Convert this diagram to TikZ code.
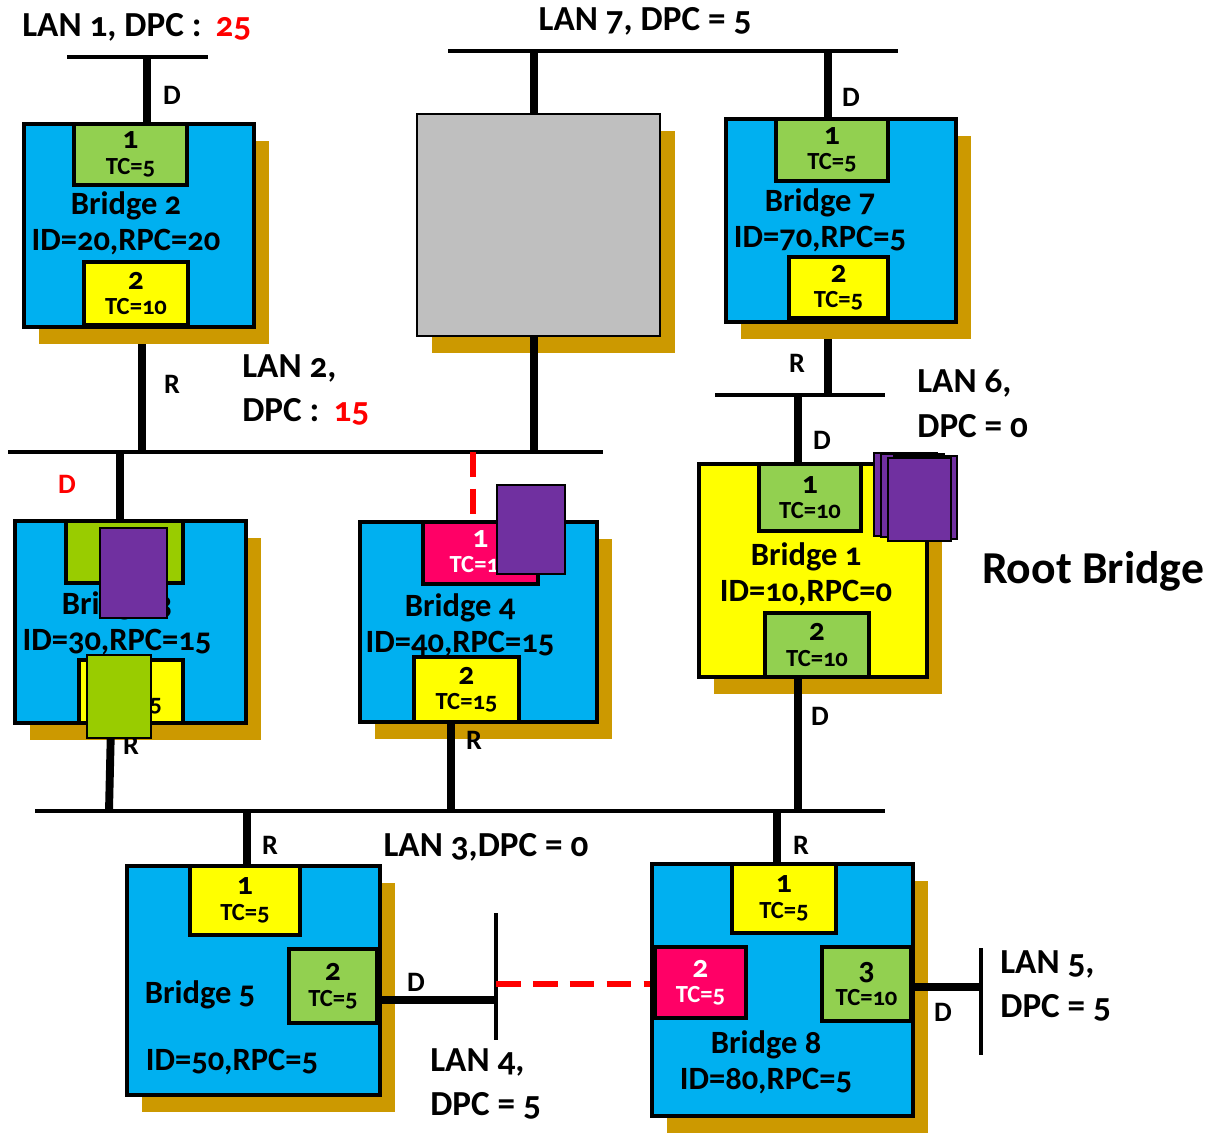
\documentclass[tikz,border=0pt]{standalone}
\usepackage{fontspec}
\setmainfont{Carlito}[Numbers=OldStyle]
\usetikzlibrary{shadows,backgrounds}
\definecolor{bridgeblue}{HTML}{00B0F0}
\definecolor{portgreen}{HTML}{92D050}
\definecolor{oldgreen}{HTML}{99CC00}
\definecolor{portyellow}{HTML}{FFFF00}
\definecolor{portpink}{HTML}{FF0066}
\definecolor{shadowgold}{HTML}{CC9900}
\definecolor{hidepurple}{HTML}{7030A0}
\definecolor{grayfill}{HTML}{BFBFBF}
\newcommand{\pnum}[1]{{\fontsize{18}{14.5}\selectfont #1}}

\begin{document}
\begin{tikzpicture}[
    x=0.02cm, y=-0.02cm,
    bus/.style={line width=2.3pt},
    drop/.style={line width=4.5pt},
    blocked/.style={line width=3.5pt, red, dash pattern=on 14pt off 7pt},
    bridge/.style={draw, line width=2.8pt, fill=bridgeblue, inner sep=0pt,
        drop shadow={shadow xshift=0.3cm, shadow yshift=-0.34cm, fill=shadowgold, opacity=1}},
    port/.style={draw, line width=2.8pt, inner sep=0pt, align=center,
        font=\fontsize{14}{14.5}\selectfont\bfseries},
    cover/.style={draw, line width=1.2pt, inner sep=0pt},
    btxt/.style={align=center, inner sep=0pt, font=\fontsize{18.5}{20.5}\selectfont\bfseries},
    lantxt/.style={align=left, inner sep=0pt, font=\fontsize{20}{25.5}\selectfont\bfseries},
    role/.style={inner sep=0pt, font=\fontsize{16}{18}\selectfont\bfseries}
]
\useasboundingbox (0,0) rectangle (1209,1132);

% LAN segments
\coordinate (lan1w) at (67,57);   \coordinate (lan1e) at (208,57);
\coordinate (lan7w) at (448,51);  \coordinate (lan7e) at (898,51);
\coordinate (lan2w) at (8,452);   \coordinate (lan2e) at (603,452);
\coordinate (lan6w) at (715,395); \coordinate (lan6e) at (885,395);
\coordinate (lan3w) at (35,811);  \coordinate (lan3e) at (885,811);
\coordinate (lan4n) at (496,913); \coordinate (lan4s) at (496,1040);
\coordinate (lan5n) at (981,948); \coordinate (lan5s) at (981,1055);
\foreach \a/\b in {lan1w/lan1e, lan7w/lan7e, lan2w/lan2e, lan6w/lan6e, lan3w/lan3e, lan4n/lan4s, lan5n/lan5s}
    \draw[bus] (\a) -- (\b);

% bridges
\node[bridge, minimum width=4.6cm, minimum height=4.06cm] (b2) at (139,225.5) {};
\node[bridge, minimum width=4.6cm, minimum height=4.06cm] (b7) at (841,220.5) {};
\node[bridge, fill=grayfill, line width=1.5pt, minimum width=4.86cm, minimum height=4.44cm] (b6) at (538.5,225) {};
\node[bridge, fill=portyellow, minimum width=4.56cm, minimum height=4.26cm] (b1) at (813,570.5) {};
\node[bridge, minimum width=4.62cm, minimum height=4.04cm] (b3) at (130.5,622) {};
\node[bridge, minimum width=4.74cm, minimum height=4.0cm] (b4) at (478.5,622) {};
\node[bridge, minimum width=5.06cm, minimum height=4.58cm] (b5) at (253.5,980.5) {};
\node[bridge, minimum width=5.22cm, minimum height=5.04cm] (b8) at (782.5,990) {};

% ports
\node[port, fill=portgreen, minimum width=2.26cm, minimum height=1.22cm] (b2p1) at (130.5,154.5) {\pnum{1}\\TC=5};
\node[port, fill=portyellow, minimum width=2.08cm, minimum height=1.26cm] (b2p2) at (136,293.5) {\pnum{2}\\TC=10};
\node[port, fill=portgreen, minimum width=2.24cm, minimum height=1.24cm] (b7p1) at (832,150) {\pnum{1}\\TC=5};
\node[port, fill=portyellow, minimum width=1.98cm, minimum height=1.22cm] (b7p2) at (838.5,287.5) {\pnum{2}\\TC=5};
\node[port, fill=portgreen, minimum width=2.04cm, minimum height=1.34cm] (b1p1) at (810,497.5) {\pnum{1}\\TC=10};
\node[port, fill=portgreen, minimum width=2.08cm, minimum height=1.28cm] (b1p2) at (817,645) {\pnum{2}\\TC=10};
\node[port, fill=oldgreen, minimum width=2.34cm, minimum height=1.24cm] (b3p1) at (124.5,552) {};
\node[port, fill=portyellow, minimum width=2.08cm, minimum height=1.26cm] (b3p2) at (131,691.5) {\pnum{2}\\TC=15};
\node[port, fill=portpink, text=white, minimum width=2.3cm, minimum height=1.24cm] (b4p1) at (480.5,553) {\pnum{1}\\TC=15};
\node[port, fill=portyellow, minimum width=2.1cm, minimum height=1.3cm] (b4p2) at (466.5,689.5) {\pnum{2}\\TC=15};
\node[port, fill=portyellow, minimum width=2.2cm, minimum height=1.38cm] (b5p1) at (245,900.5) {\pnum{1}\\TC=5};
\node[port, fill=portgreen, minimum width=1.76cm, minimum height=1.48cm] (b5p2) at (333,986) {\pnum{2}\\TC=5};
\node[port, fill=portyellow, minimum width=2.08cm, minimum height=1.38cm] (b8p1) at (784,898.5) {\pnum{1}\\TC=5};
\node[port, fill=portpink, text=white, minimum width=1.82cm, minimum height=1.42cm] (b8p2) at (700.5,982.5) {\pnum{2}\\TC=5};
\node[port, fill=portgreen, minimum width=1.78cm, minimum height=1.48cm] (b8p3) at (866.5,984) {\pnum{3}\\TC=10};

% bridge names
\node[btxt] (b2txt) at (126,223) {Bridge 2\\ID=20,RPC=20};
\node[btxt] (b7txt) at (820,220) {Bridge 7\\ID=70,RPC=5};
\node[btxt] (b1txt) at (806,574) {Bridge 1\\ID=10,RPC=0};
\node[btxt] (b3txt) at (117,623) {Bridge 3\\ID=30,RPC=15};
\node[btxt] (b4txt) at (460,625) {Bridge 4\\ID=40,RPC=15};
\node[btxt] (b5name) at (200,995) {Bridge 5};
\node[btxt] (b5id) at (232,1062) {ID=50,RPC=5};
\node[btxt] (b8txt) at (766,1062) {Bridge 8\\ID=80,RPC=5};

% links
\begin{pgfonlayer}{background}
\draw[drop] (b2.south -| 142,0) -- (lan2w -| 142,0);
\draw[drop] (b7.south -| 828,0) -- (lan6w -| 828,0);
\end{pgfonlayer}
\draw[drop] (lan1w -| 147,0) -- (b2.north -| 147,0);
\draw[drop] (lan7w -| 534,0) -- (b6.north -| 534,0);
\draw[drop] (b6.south -| 534,0) -- (lan2w -| 534,0);
\draw[drop] (lan7w -| 828,0) -- (b7.north -| 828,0);
\draw[drop] (lan6w -| 798,0) -- (b1.north -| 798,0);
\draw[drop] (b1.south -| 798,0) -- (lan3w -| 798,0);
\draw[drop] (lan2w -| 120,0) -- (b3.north -| 120,0);
\draw[drop] (b3.south -| 111,0) -- (lan3w -| 109,0);
\draw[drop] (b4.south -| 451,0) -- (lan3w -| 451,0);
\draw[drop] (lan3w -| 247,0) -- (b5.north -| 247,0);
\draw[drop] (lan3w -| 777,0) -- (b8.north -| 777,0);
\draw[drop] (b5.east |- 0,1000) -- (lan4n |- 0,1000);
\draw[drop] (b8.east |- 0,987) -- (lan5n |- 0,987);
\draw[blocked] (lan2w -| 473,0) -- (b4p1.north -| 473,0);
\draw[blocked] (lan4n |- 0,984) -- (b8.west |- 0,984);

% port roles
\node[role] (r1) at (172,95) {D};
\node[role] (r2) at (172,384) {R};
\node[role] (r3) at (851,97) {D};
\node[role] (r4) at (797,363) {R};
\node[role] (r5) at (822,440) {D};
\node[role] (r6) at (820,716) {D};
\node[role, red] (r7) at (67,484) {D};
\node[role] (r8) at (131,745) {R};
\node[role] (r9) at (474,740) {R};
\node[role] (r10) at (270,845) {R};
\node[role] (r11) at (801,845) {R};
\node[role] (r12) at (416,982) {D};
\node[role] (r13) at (943,1012) {D};

% covers
\node[cover, fill=hidepurple, minimum width=1.34cm, minimum height=1.8cm] (hide3a) at (133.5,573) {};
\node[cover, fill=oldgreen, minimum width=1.28cm, minimum height=1.66cm] (hide3b) at (119,696.5) {};
\node[cover, fill=hidepurple, minimum width=1.36cm, minimum height=1.78cm] (hide4) at (531,529.5) {};
\foreach \dx/\dy [count=\i] in {0/0, 7/1, 20/3, 14/5}
    \node[cover, fill=hidepurple, anchor=north west, minimum width=1.26cm, minimum height=1.66cm] (hide1\i) at (873+\dx,452+\dy) {};

% LAN labels
\node[lantxt, anchor=west] (l1) at (22,27) {LAN 1, DPC :\hspace{8pt}\textcolor{red}{25}};
\node[lantxt] (l7) at (645,21) {LAN 7, DPC = 5};
\node[lantxt, anchor=west] (l2) at (242,390) {LAN 2,\\DPC :\hspace{8pt}\textcolor{red}{15}};
\node[lantxt, anchor=west] (l6) at (917,404) {LAN 6,\\DPC = 0};
\node[lantxt] (l3) at (486,847) {LAN 3,DPC = 0};
\node[lantxt, anchor=west] (l4) at (430,1084) {LAN 4,\\DPC = 5};
\node[lantxt, anchor=west] (l5) at (1000,986) {LAN 5,\\DPC = 5};
\node[font=\fontsize{26}{30}\selectfont\bfseries, inner sep=0pt] (root) at (1093,571) {Root Bridge};

\end{tikzpicture}
\end{document}
